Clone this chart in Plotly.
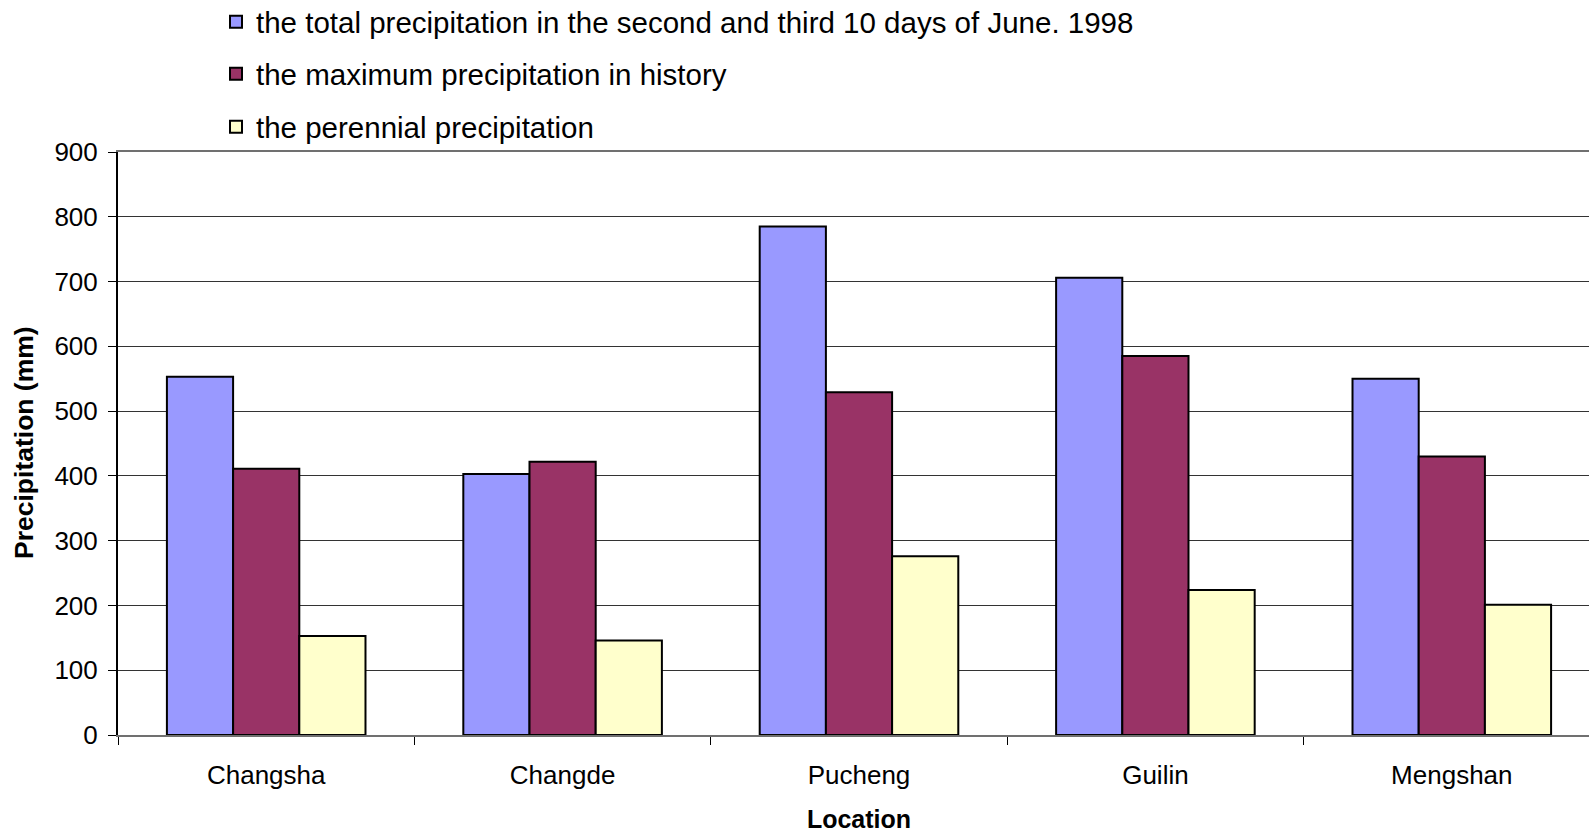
import plotly.graph_objects as go

locations = ["Changsha", "Changde", "Pucheng", "Guilin", "Mengshan"]
total_1998 = [553, 403, 785, 706, 550]
max_history = [411, 422, 529, 585, 430]
perennial = [153, 146, 276, 224, 201]

series_names = [
    "the total precipitation in the second and third 10 days of June. 1998",
    "the maximum precipitation in history",
    "the perennial precipitation",
]
series_values = [total_1998, max_history, perennial]
series_colors = ["#9999FF", "#993366", "#FFFFCC"]

FONT = "Arial, 'Liberation Sans', sans-serif"
W = 1600  # plot area runs slightly past the right edge of the window, as in the reference
H = 833

legend_ids = ["legend", "legend2", "legend3"]
legend_rows_px = [22, 74, 127]  # vertical centre of each legend row

fig = go.Figure()
for name, vals, col, lid in zip(series_names, series_values, series_colors, legend_ids):
    fig.add_trace(go.Bar(
        x=locations, y=vals, name=name,
        marker=dict(color=col, line=dict(color="black", width=2)),
        legend=lid,
    ))

legend_layout = {}
for lid, yc in zip(legend_ids, legend_rows_px):
    legend_layout[lid] = dict(
        xref="container", yref="container",
        x=216 / W, y=1 - yc / H, xanchor="left", yanchor="middle",
        font=dict(family=FONT, size=29.5, color="black"),
        bgcolor="rgba(0,0,0,0)",
    )

fig.update_layout(
    width=W, height=H,
    margin=dict(l=118, r=0, t=152, b=98, autoexpand=False),
    paper_bgcolor="white", plot_bgcolor="white",
    font=dict(family=FONT, size=26, color="black"),
    barmode="group", bargap=0.33, bargroupgap=0,
    showlegend=True,
    annotations=[dict(
        text="<b>Precipitation (mm)</b>", textangle=-90,
        xref="paper", yref="paper", x=(24 - 118) / (W - 118), y=(735 - 443) / 583,
        xanchor="center", yanchor="middle", showarrow=False,
        font=dict(family=FONT, size=26.5, color="black"),
    )],
    **legend_layout,
)
fig.update_yaxes(
    range=[0, 900], dtick=100, tick0=0,
    showgrid=True, gridcolor="#333333", gridwidth=1,
    showline=True, linecolor="black", linewidth=2,
    ticks="outside", ticklen=8, tickcolor="black", tickwidth=1,
    tickfont=dict(family=FONT, size=26, color="black"),
    ticklabelstandoff=5,
    zeroline=False,
)
fig.update_xaxes(
    showline=True, linecolor="#707070", linewidth=2, mirror=True,
    ticks="outside", ticklen=8, tickcolor="black", tickson="boundaries",
    tickfont=dict(family=FONT, size=26, color="black"),
    tickangle=0,
    ticklabelstandoff=16,
    title=dict(text="<b>Location</b>", font=dict(family=FONT, size=25, color="black"), standoff=22),
)

fig.write_html("out.html", config={"displayModeBar": False},
               post_script="document.body.style.margin='0';document.body.style.overflow='hidden';")
